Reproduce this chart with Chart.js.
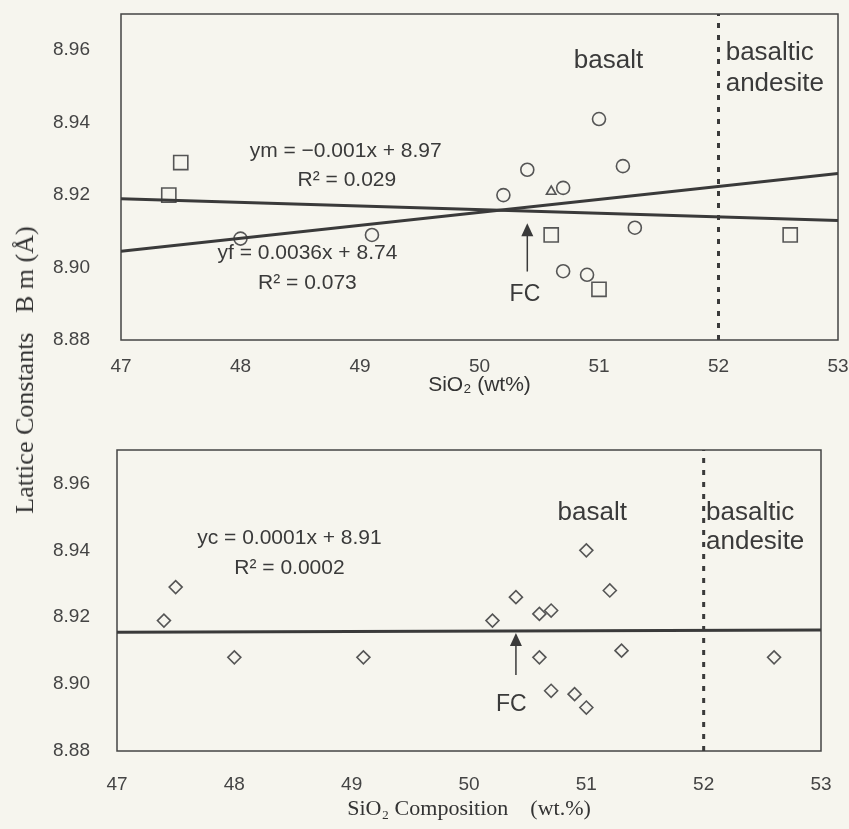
<!DOCTYPE html>
<html>
<head>
<meta charset="utf-8">
<script src="https://cdn.jsdelivr.net/npm/chart.js@4"></script>
<style>
  html, body { margin:0; padding:0; background:#f6f5ee; }
  #page { position:relative; width:849px; height:829px; background:#f6f5ee; overflow:hidden; }
  .wrap { position:absolute; left:0; }
  #ylab { position:absolute; left:25px; top:370px; transform:translate(-50%,-50%) rotate(-90deg);
          font-family:'Liberation Serif','Times New Roman',serif; font-size:26px; color:#333; white-space:nowrap; }
</style>
</head>
<body>
<div id="page">
  <div class="wrap" style="top:0;width:849px;height:400px"><canvas id="c1" width="849" height="400"></canvas></div>
  <div class="wrap" style="top:414px;width:849px;height:415px"><canvas id="c2" width="849" height="415"></canvas></div>
  <div id="ylab">Lattice Constants&nbsp;&nbsp;&nbsp;B m (Å)</div>
</div>
<script>
// ---------- data ----------
const xTicks = [47, 48, 49, 50, 51, 52, 53];
const yTicks = [8.88, 8.90, 8.92, 8.94, 8.96];
const xRange = [47, 53];
const yRange = [8.88, 8.97];

// upper panel: three sample groups
const squareX   = [47.4, 47.5, 50.6, 51.0, 52.6];
const squareY   = [8.920, 8.929, 8.909, 8.894, 8.909];
const circleX   = [48.0, 49.1, 50.2, 50.4, 50.7, 51.0, 51.2, 51.3, 50.7, 50.9];
const circleY   = [8.908, 8.909, 8.920, 8.927, 8.922, 8.941, 8.928, 8.911, 8.899, 8.898];
const triangleX = [50.6];
const triangleY = [8.921];

// lower panel: all samples
const diamondX = [47.4, 47.5, 48.0, 49.1, 50.2, 50.4, 50.6, 50.7, 51.0, 51.2, 51.3, 50.6, 50.7, 50.9, 51.0, 52.6];
const diamondY = [8.919, 8.929, 8.908, 8.908, 8.919, 8.926, 8.921, 8.922, 8.940, 8.928, 8.910, 8.908, 8.898, 8.897, 8.893, 8.908];

// regression lines (end points)
const ymX = [47, 53], ymY = [8.919, 8.913];
const yfX = [47, 53], yfY = [8.9045, 8.926];
const ycX = [47, 53], ycY = [8.9155, 8.9162];

// basalt / basaltic andesite boundary
const boundaryX = 52;

// FC arrows (x, tail y, tip y)
const fcTop    = [50.4, 8.8989, 8.9122];
const fcBottom = [50.4, 8.9027, 8.9153];

const zip = (xs, ys) => xs.map((x, i) => ({x, y: ys[i]}));

// ---------- styling ----------
const INK = '#3a3a3a';
const MARK = '#555';
const sans = "'Liberation Sans', Arial, sans-serif";

const framePlugin = {
  id: 'frame',
  beforeDatasetsDraw(chart) {
    const a = chart.chartArea, ctx = chart.ctx;
    ctx.save();
    ctx.strokeStyle = '#444';
    ctx.lineWidth = 1.5;
    ctx.strokeRect(a.left, a.top, a.right - a.left, a.bottom - a.top);
    ctx.restore();
  }
};

const notesPlugin = {
  id: 'notes',
  afterDatasetsDraw(chart, args, opts) {
    const ctx = chart.ctx, xs = chart.scales.x, ys = chart.scales.y;
    ctx.save();
    ctx.fillStyle = INK;
    ctx.textBaseline = 'middle';
    (opts.texts || []).forEach(t => {
      ctx.font = t.size + 'px ' + sans;
      ctx.textAlign = t.align || 'center';
      ctx.fillText(t.text, xs.getPixelForValue(t.x), ys.getPixelForValue(t.y));
    });
    if (opts.arrow) {
      const [ax, y0, y1] = opts.arrow;
      const px = xs.getPixelForValue(ax), p0 = ys.getPixelForValue(y0), p1 = ys.getPixelForValue(y1);
      ctx.strokeStyle = INK; ctx.lineWidth = 1.5;
      ctx.beginPath(); ctx.moveTo(px, p0); ctx.lineTo(px, p1 + 10); ctx.stroke();
      ctx.beginPath(); ctx.moveTo(px, p1); ctx.lineTo(px - 6, p1 + 13); ctx.lineTo(px + 6, p1 + 13); ctx.closePath(); ctx.fill();
    }
    ctx.restore();
  }
};

function lineDs(xs, ys, extra) {
  return Object.assign({ type: 'line', data: zip(xs, ys), borderColor: INK, borderWidth: 3,
    pointRadius: 0, fill: false, showLine: true, order: 0 }, extra || {});
}
function markDs(xs, ys, style, r) {
  return { type: 'scatter', data: zip(xs, ys), pointStyle: style, pointRadius: r, pointHoverRadius: r,
    borderColor: MARK, backgroundColor: 'rgba(0,0,0,0)', pointBorderWidth: 1.6, borderWidth: 1.6, order: 1 };
}

function makeOptions(cfg) {
  return {
    responsive: false, animation: false, events: [],
    layout: { padding: cfg.pad, autoPadding: false },
    plugins: { legend: { display: false }, tooltip: { enabled: false }, notes: cfg.notes },
    scales: {
      x: {
        type: 'linear', min: xRange[0], max: xRange[1],
        grid: { display: false, drawTicks: false }, border: { display: false },
        afterBuildTicks: s => { s.ticks = xTicks.map(v => ({ value: v })); },
        afterFit: s => { s.height = cfg.xh; s.paddingLeft = 0; s.paddingRight = 0; },
        ticks: { padding: cfg.xtp, color: '#444', font: { family: sans, size: 19 }, callback: v => String(v), maxRotation: 0 },
        title: { display: true, text: cfg.xtitle, color: '#333', font: cfg.xfont, padding: { top: 0, bottom: cfg.xtpb } }
      },
      y: {
        type: 'linear', min: yRange[0], max: yRange[1],
        grid: { display: false, drawTicks: false }, border: { display: false },
        afterBuildTicks: s => { s.ticks = yTicks.map(v => ({ value: v })); },
        afterFit: s => { s.width = cfg.yw; s.paddingTop = 0; s.paddingBottom = 0; },
        ticks: { padding: cfg.ytp, color: '#444', font: { family: sans, size: 19 }, callback: v => Number(v).toFixed(2) }
      }
    }
  };
}

// ---------- upper chart ----------
new Chart(document.getElementById('c1'), {
  type: 'scatter',
  data: { datasets: [
    markDs(squareX, squareY, 'rect', 10),
    markDs(circleX, circleY, 'circle', 6.5),
    markDs(triangleX, triangleY, 'triangle', 5.5),
    lineDs(ymX, ymY),
    lineDs(yfX, yfY),
    lineDs([boundaryX, boundaryX], yRange, { borderWidth: 3, borderDash: [5, 7] })
  ]},
  options: makeOptions({
    pad: { top: 14, right: 11, left: 0, bottom: 0 },
    xh: 60, xtp: 15, yw: 121, ytp: 31,
    xtitle: 'SiO\u2082 (wt%)', xfont: { family: sans, size: 21 }, xtpb: 2,
    notes: {
      texts: [
        { text: 'basalt', x: 51.08, y: 8.957, size: 26 },
        { text: 'basaltic', x: 52.06, y: 8.9592, size: 26, align: 'left' },
        { text: 'andesite', x: 52.06, y: 8.9506, size: 26, align: 'left' },
        { text: 'ym = \u22120.001x + 8.97', x: 48.88, y: 8.932, size: 21 },
        { text: 'R\u00b2 = 0.029', x: 48.89, y: 8.924, size: 21 },
        { text: 'yf = 0.0036x + 8.74', x: 48.56, y: 8.904, size: 21 },
        { text: 'R\u00b2 = 0.073', x: 48.56, y: 8.8958, size: 21 },
        { text: 'FC', x: 50.38, y: 8.8925, size: 23 }
      ],
      arrow: fcTop
    }
  }),
  plugins: [framePlugin, notesPlugin]
});

// ---------- lower chart ----------
new Chart(document.getElementById('c2'), {
  type: 'scatter',
  data: { datasets: [
    markDs(diamondX, diamondY, 'rectRot', 6.5),
    lineDs(ycX, ycY),
    lineDs([boundaryX, boundaryX], yRange, { borderWidth: 3, borderDash: [5, 7] })
  ]},
  options: makeOptions({
    pad: { top: 36, right: 28, left: 0, bottom: 0 },
    xh: 78, xtp: 22, yw: 117, ytp: 27,
    xtitle: 'SiO\u2082 Composition\u2003(wt.%)', xfont: { family: "'Liberation Serif','Times New Roman',serif", size: 22 }, xtpb: 7,
    notes: {
      texts: [
        { text: 'basalt', x: 51.05, y: 8.9513, size: 26 },
        { text: 'basaltic', x: 52.02, y: 8.9513, size: 26, align: 'left' },
        { text: 'andesite', x: 52.02, y: 8.9424, size: 26, align: 'left' },
        { text: 'yc = 0.0001x + 8.91', x: 48.47, y: 8.9436, size: 21 },
        { text: 'R\u00b2 = 0.0002', x: 48.47, y: 8.9346, size: 21 },
        { text: 'FC', x: 50.36, y: 8.894, size: 23 }
      ],
      arrow: fcBottom
    }
  }),
  plugins: [framePlugin, notesPlugin]
});
</script>
</body>
</html>
